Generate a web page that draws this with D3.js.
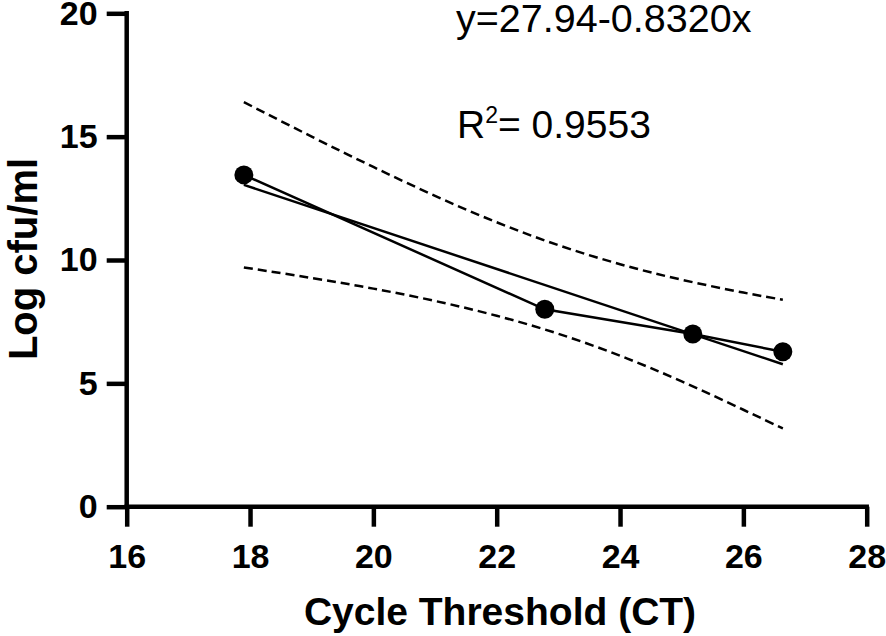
<!DOCTYPE html>
<html>
<head>
<meta charset="utf-8">
<script src="https://cdn.jsdelivr.net/npm/d3@7"></script>
<style>
  html, body { margin: 0; padding: 0; background: #fff; }
  svg { display: block; }
  text { font-family: "Liberation Sans", Arial, Helvetica, sans-serif; fill: #000; }
</style>
</head>
<body>
<svg id="chart" width="886" height="636"></svg>
<script>
// ---- data ----
const ctValues = [17.9, 22.78, 25.18, 26.64];
const logCfu = [13.45, 8.0, 7.0, 6.28];

const fitIntercept = 27.94;
const fitSlope = -0.8320;
const fitRange = [17.9, 26.64];

const bandX = [17.9, 19, 20, 21, 22, 23, 24, 25, 26, 26.64];
const bandUpper = [16.40, 15.00, 13.77, 12.60, 11.53, 10.60, 9.83, 9.20, 8.68, 8.39];
const bandLower = [9.70, 9.27, 8.84, 8.34, 7.74, 7.01, 6.12, 5.08, 3.93, 3.17];

const xTicks = [16, 18, 20, 22, 24, 26, 28];
const yTicks = [0, 5, 10, 15, 20];

const equationText = "y=27.94-0.8320x";
const r2Value = "0.9553";

// ---- chart ----
const svg = d3.select("#chart");
const x = d3.scaleLinear().domain([16, 28]).range([126.7, 866.7]);
const y = d3.scaleLinear().domain([0, 20]).range([506.7, 13.3]);

const axisW = 4.5;

const xAxis = svg.append("g")
  .attr("transform", `translate(0,${y(0)})`)
  .call(d3.axisBottom(x).tickValues(xTicks).tickSize(20).tickPadding(17).tickFormat(d3.format("d")));
const yAxis = svg.append("g")
  .attr("transform", `translate(${x(16)},0)`)
  .call(d3.axisLeft(y).tickValues(yTicks).tickSize(20).tickPadding(9).tickFormat(d3.format("d")));

[xAxis, yAxis].forEach(g => {
  g.select(".domain").attr("stroke", "#000").attr("stroke-width", axisW)
    .attr("stroke-linecap", "square");
  g.selectAll(".tick line").attr("stroke", "#000").attr("stroke-width", axisW);
  g.selectAll(".tick text").attr("font-size", 34).attr("font-weight", "bold")
    .attr("font-family", "'Liberation Sans', Arial, Helvetica, sans-serif").attr("fill", "#000");
});
xAxis.select(".domain").attr("d", `M${x(16)},0H${x(28)}`);
yAxis.select(".domain").attr("d", `M0,${y(0)}V${y(20)}`);

// confidence bands
const bandLine = d3.line().x(d => x(d[0])).y(d => y(d[1])).curve(d3.curveNatural);
[bandUpper, bandLower].forEach(arr => {
  svg.append("path")
    .datum(bandX.map((v, i) => [v, arr[i]]))
    .attr("d", bandLine)
    .attr("fill", "none")
    .attr("stroke", "#000")
    .attr("stroke-width", 2.5)
    .attr("stroke-dasharray", "9,5");
});

// regression line
const fitPts = fitRange.map(v => [v, fitIntercept + fitSlope * v]);
svg.append("path")
  .datum(fitPts)
  .attr("d", d3.line().x(d => x(d[0])).y(d => y(d[1])))
  .attr("fill", "none").attr("stroke", "#000").attr("stroke-width", 2.5);

// connecting line through points
const pts = ctValues.map((v, i) => [v, logCfu[i]]);
svg.append("path")
  .datum(pts)
  .attr("d", d3.line().x(d => x(d[0])).y(d => y(d[1])))
  .attr("fill", "none").attr("stroke", "#000").attr("stroke-width", 2.5);

// points
svg.selectAll("circle.pt").data(pts).enter().append("circle")
  .attr("class", "pt")
  .attr("cx", d => x(d[0])).attr("cy", d => y(d[1])).attr("r", 9.5)
  .attr("fill", "#000");

// axis titles
svg.append("text")
  .attr("x", 500).attr("y", 625)
  .attr("text-anchor", "middle")
  .attr("font-size", 39).attr("font-weight", "bold")
  .text("Cycle Threshold (CT)");

svg.append("text")
  .attr("transform", "translate(37,259) rotate(-90)")
  .attr("text-anchor", "middle")
  .attr("font-size", 40).attr("font-weight", "bold")
  .text("Log cfu/ml");

// annotations
svg.append("text")
  .attr("x", 456).attr("y", 32)
  .attr("font-size", 39.5)
  .text(equationText);

const r2 = svg.append("text")
  .attr("x", 457).attr("y", 138)
  .attr("font-size", 39);
r2.append("tspan").text("R");
r2.append("tspan").attr("font-size", 23).attr("dy", -15).text("2");
r2.append("tspan").attr("dy", 15).text("= " + r2Value);
</script>
</body>
</html>
